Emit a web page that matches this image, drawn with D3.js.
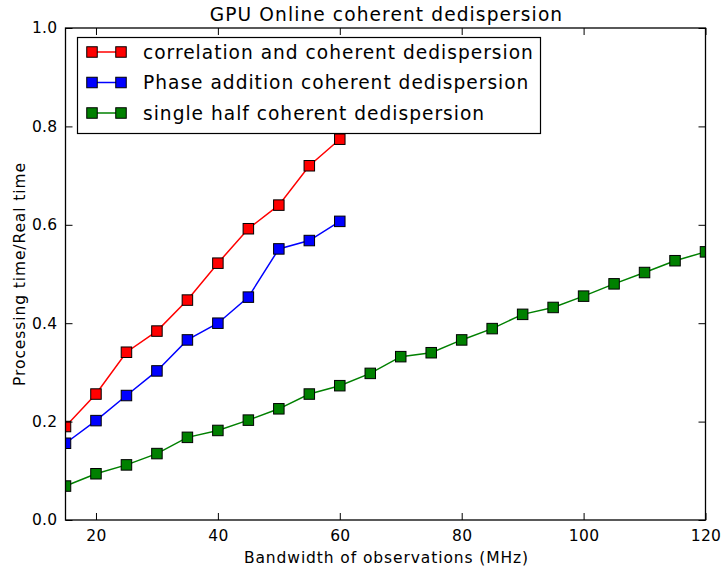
<!DOCTYPE html>
<html><head><meta charset="utf-8">
<script src="https://cdn.jsdelivr.net/npm/d3@7"></script>
<style>body{margin:0;background:#fff}svg{display:block}text{font-family:"DejaVu Sans",sans-serif}</style>
</head><body>
<script>
const seriesNames = ["correlation and coherent dedispersion","Phase addition coherent dedispersion","single half coherent dedispersion"];
const seriesColors = ["#ff0000","#0000ff","#008000"];
const xRed = [15,20,25,30,35,40,45,50,55,60];
const yRed = [0.190,0.256,0.341,0.384,0.447,0.522,0.592,0.640,0.720,0.774];
const xBlue = [15,20,25,30,35,40,45,50,55,60];
const yBlue = [0.156,0.202,0.253,0.303,0.366,0.400,0.453,0.551,0.568,0.607];
const xGreen = [15,20,25,30,35,40,45,50,55,60,65,70,75,80,85,90,95,100,105,110,115,120];
const yGreen = [0.069,0.094,0.112,0.135,0.168,0.182,0.203,0.226,0.256,0.273,0.298,0.332,0.340,0.366,0.389,0.418,0.432,0.455,0.480,0.503,0.527,0.545];
const xTicks = [20,40,60,80,100,120];
const yTicks = [0.0,0.2,0.4,0.6,0.8,1.0];
const title = "GPU Online coherent dedispersion";
const xLabel = "Bandwidth of observations (MHz)";
const yLabel = "Processing time/Real time";

const W=724,H=566;
const m={left:65.5,right:705.5,top:28,bottom:520};
const svg=d3.select("body").append("svg").attr("width",W).attr("height",H);
const x=d3.scaleLinear().domain([15,120]).range([m.left,m.right]);
const y=d3.scaleLinear().domain([0,1]).range([m.bottom,m.top]);

svg.append("clipPath").attr("id","clip").append("rect")
  .attr("x",m.left).attr("y",m.top).attr("width",m.right-m.left).attr("height",m.bottom-m.top);

const series=[
  {xs:xRed,ys:yRed},{xs:xBlue,ys:yBlue},{xs:xGreen,ys:yGreen}
].map((s,i)=>({name:seriesNames[i],color:seriesColors[i],pts:s.xs.map((v,j)=>[v,s.ys[j]])}));

const plot=svg.append("g").attr("clip-path","url(#clip)");
const line=d3.line().x(d=>x(d[0])).y(d=>y(d[1]));
const ms=10.5;
series.forEach(s=>{
  plot.append("path").attr("d",line(s.pts)).attr("fill","none").attr("stroke",s.color).attr("stroke-width",1.5);
  plot.selectAll(null).data(s.pts).enter().append("rect")
    .attr("x",d=>x(d[0])-ms/2).attr("y",d=>y(d[1])-ms/2).attr("width",ms).attr("height",ms)
    .attr("fill",s.color).attr("stroke","#000").attr("stroke-width",1);
});

// axes (ticks inward, all four sides)
const tl=7;
const fs=15.5;
const axB=svg.append("g").attr("transform",`translate(0,${m.bottom})`)
  .call(d3.axisBottom(x).tickValues(xTicks).tickSizeInner(-tl).tickSizeOuter(0).tickPadding(10).tickFormat(d3.format("d")));
const axT=svg.append("g").attr("transform",`translate(0,${m.top})`)
  .call(d3.axisTop(x).tickValues(xTicks).tickSizeInner(-tl).tickSizeOuter(0).tickFormat(""));
const axL=svg.append("g").attr("transform",`translate(${m.left},0)`)
  .call(d3.axisLeft(y).tickValues(yTicks).tickSizeInner(-tl).tickSizeOuter(0).tickPadding(8).tickFormat(d3.format(".1f")));
const axR=svg.append("g").attr("transform",`translate(${m.right},0)`)
  .call(d3.axisRight(y).tickValues(yTicks).tickSizeInner(-tl).tickSizeOuter(0).tickFormat(""));
[axB,axT,axL,axR].forEach(a=>{
  a.select(".domain").remove();
  a.selectAll("line").attr("stroke","#000").attr("stroke-width",1);
  a.selectAll("text").attr("font-size",fs).attr("fill","#000").attr("font-family","DejaVu Sans").attr("letter-spacing",0.3);
});
svg.append("rect").attr("x",m.left).attr("y",m.top).attr("width",m.right-m.left).attr("height",m.bottom-m.top)
  .attr("fill","none").attr("stroke","#000").attr("stroke-width",1.3);

svg.append("text").attr("x",(m.left+m.right)/2+1).attr("y",21).attr("text-anchor","middle")
  .attr("font-size",18.6).attr("letter-spacing",1.1).text(title);
svg.append("text").attr("x",(m.left+m.right)/2+1).attr("y",563).attr("text-anchor","middle")
  .attr("font-size",fs).attr("letter-spacing",0.9).text(xLabel);
svg.append("text").attr("transform",`translate(25,${(m.top+m.bottom)/2}) rotate(-90)`).attr("text-anchor","middle")
  .attr("font-size",fs).attr("letter-spacing",0.9).text(yLabel);

// legend
const lg=svg.append("g");
lg.append("rect").attr("x",77.5).attr("y",37.5).attr("width",463).attr("height",96)
  .attr("fill","#fff").attr("stroke","#000").attr("stroke-width",1.2);
series.forEach((s,i)=>{
  const cy=52+i*30.5;
  lg.append("line").attr("x1",92).attr("x2",121).attr("y1",cy).attr("y2",cy).attr("stroke",s.color).attr("stroke-width",1.5);
  [92,121].forEach(cx=>lg.append("rect").attr("x",cx-ms/2).attr("y",cy-ms/2).attr("width",ms).attr("height",ms)
    .attr("fill",s.color).attr("stroke","#000").attr("stroke-width",1));
  lg.append("text").attr("x",143).attr("y",cy+6.5).attr("font-size",18.6).attr("letter-spacing",1.0).text(s.name);
});
</script>
</body></html>
